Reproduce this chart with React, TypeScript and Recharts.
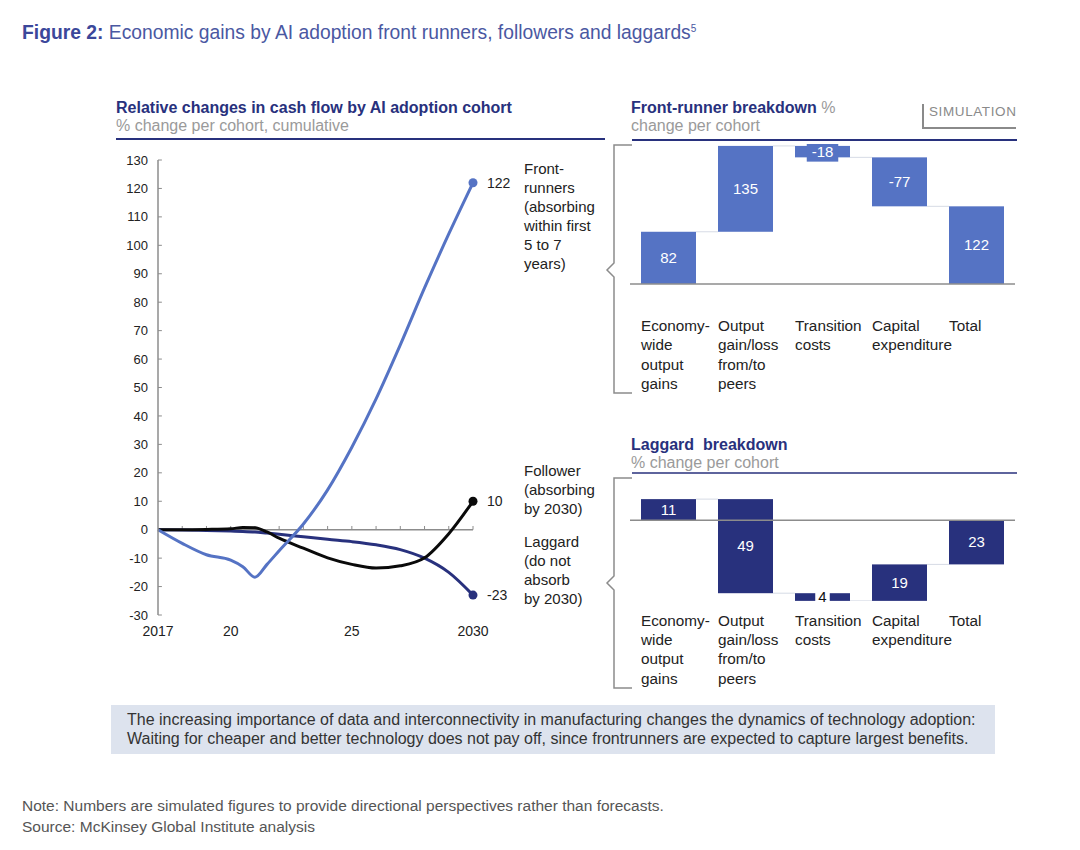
import React from 'react';
import { LineChart, Line, XAxis, YAxis, ReferenceLine, BarChart, Bar, LabelList } from 'recharts';

const FONT = '"Liberation Sans", Arial, Helvetica, sans-serif';
const NAVY = '#28317d';
const LIGHT = '#5573c4';
const INK = '#222';
const GREY = '#9a9a9a';

// cumulative cash-flow change per cohort
const years = [2017, 2018, 2019, 2020, 2020.5, 2021, 2021.5, 2022, 2023, 2024, 2025, 2026, 2027, 2028, 2029, 2030];
const frontRunners = [0, -4.8, -8.8, -10.7, -13, -16.7, -12.2, -7.4, 2, 14, 29, 46, 65, 85, 104, 122];
const followers = [0, 0, 0.1, 0.3, 0.8, 0.7, -0.8, -3, -6.5, -9.9, -12.2, -13.5, -12.7, -9.9, -1.4, 10];
const laggards = [0, -0.1, -0.3, -0.5, -0.6, -0.8, -1.2, -1.6, -2.5, -3.4, -4.2, -5.3, -7, -10, -15, -23];

const yTicks = [-30, -20, -10, 0, 10, 20, 30, 40, 50, 60, 70, 80, 90, 100, 110, 120, 130];
const xTicks = [2017, 2020, 2025, 2030];
const xTickNames = ['2017', '20', '25', '2030'];
const minorYears = years.filter((y) => Number.isInteger(y) && y > 2017);

// waterfall steps (total is the running sum)
const steps = ['Economy-\nwide\noutput\ngains', 'Output\ngain/loss\nfrom/to\npeers', 'Transition\ncosts', 'Capital\nexpenditure', 'Total'];
const frontSteps = [82, 135, -18, -77];
const laggardSteps = [11, -49, -4, 19];

const lineRows = years.map((year, i) => ({
  year,
  front: frontRunners[i],
  follower: followers[i],
  laggard: laggards[i],
}));

function waterfall(values: number[]) {
  let run = 0;
  const rows: any[] = values.map((v, i) => {
    const row = { name: steps[i], range: [Math.min(run, run + v), Math.max(run, run + v)], delta: v, total: false };
    run += v;
    return row;
  });
  rows.push({ name: steps[4], range: [Math.min(0, run), Math.max(0, run)], delta: run, total: true });
  return rows;
}

const StepShape = (props: any) => {
  const { x, y, width, height, payload, fill } = props;
  const top = Math.min(y, y + height);
  const h = Math.abs(height);
  const level = payload.delta >= 0 ? top : top + h;
  return (
    <g>
      {!payload.total && (
        <line x1={x + width} x2={x + width + 22} y1={level} y2={level} stroke="#d6dbe5" strokeWidth={1} />
      )}
      <rect x={x} y={top} width={width} height={h} fill={fill} />
    </g>
  );
};

const CategoryTick = ({ x, y, payload, offset }: any) => {
  const lines = String(payload.value).split('\n');
  return (
    <text x={x - 27.5} y={y + offset} fill={INK} fontSize={15.3} fontFamily={FONT}>
      {lines.map((l, i) => (
        <tspan key={i} x={x - 27.5} dy={i === 0 ? 0 : 19.3}>{l}</tspan>
      ))}
    </text>
  );
};

function Waterfall({ values, color, top, height, domain, pxPerUnit, tickOffset, absLabels, smallBg, smallInk }: any) {
  const rows = waterfall(values);
  const label = (p: any) => {
    const vb = p.viewBox || p;
    const { x, y, width, height: h } = vb;
    const cy = Math.min(y, y + h) + Math.abs(h) / 2;
    const v = absLabels ? Math.abs(p.value) : p.value;
    const small = Math.abs(h) < 14;
    const bw = small ? String(v).length * 8.5 + 6 : 0;
    return (
      <g>
        {small && <rect x={x + width / 2 - bw / 2} y={cy - 10} width={bw} height={20} fill={smallBg} />}
        <text x={x + width / 2} y={cy + 5} textAnchor="middle" fontSize={15} fontFamily={FONT} fill={small ? smallInk : '#fff'}>
          {v}
        </text>
      </g>
    );
  };
  return (
    <div style={{ position: 'absolute', left: 630, top }}>
      <BarChart width={385} height={height} data={rows} margin={{ top: 0, right: 0, bottom: 0, left: 0 }} barSize={55}>
        <XAxis
          dataKey="name"
          axisLine={false}
          tickLine={false}
          tickSize={0}
          tickMargin={0}
          interval={0}
          height={height - (domain[1] - domain[0]) * pxPerUnit}
          tick={<CategoryTick offset={tickOffset} />}
        />
        <YAxis hide domain={domain} allowDataOverflow />
        <ReferenceLine y={0} stroke="#8c8c8c" strokeWidth={1.5} />
        <Bar dataKey="range" fill={color} shape={<StepShape />} isAnimationActive={false}>
          <LabelList dataKey="delta" content={label} />
        </Bar>
      </BarChart>
    </div>
  );
}

const endLabel = (p: any) => {
  if (p.index !== years.length - 1) return null;
  return (
    <text x={p.x + 14} y={p.y + 5} fontSize={14} fontFamily={FONT} fill={INK}>
      {p.value}
    </text>
  );
};

const endDot = (color: string) => (p: any) =>
  p.index === years.length - 1 ? (
    <circle key={`d${p.index}`} cx={p.cx} cy={p.cy} r={4.5} fill={color} />
  ) : (
    <g key={`d${p.index}`} />
  );

const txt = (left: number, top: number, extra: any = {}) => ({
  position: 'absolute' as const,
  left,
  top,
  fontFamily: FONT,
  ...extra,
});

export default function App() {
  return (
    <div style={{ position: 'absolute', left: 0, top: 0, width: 1080, height: 850, background: '#fff', overflow: 'hidden', fontFamily: FONT }}>
      <div style={txt(22, 17, { fontSize: 19.3, lineHeight: '24px', color: '#4a58a2', whiteSpace: 'nowrap' })}>
        <span style={{ fontWeight: 'bold', color: '#3b479a' }}>Figure 2:</span> Economic gains by AI adoption front runners, followers and laggards
        <sup style={{ fontSize: 10 }}>5</sup>
      </div>

      {/* panel headers */}
      <div style={txt(116, 99, { fontSize: 16, lineHeight: '18px', whiteSpace: 'nowrap' })}>
        <div style={{ fontWeight: 'bold', color: NAVY }}>Relative changes in cash flow by AI adoption cohort</div>
        <div style={{ color: GREY }}>% change per cohort, cumulative</div>
      </div>
      <div style={txt(631, 99, { fontSize: 16, lineHeight: '18px', whiteSpace: 'nowrap' })}>
        <div>
          <span style={{ fontWeight: 'bold', color: NAVY }}>Front-runner breakdown</span>
          <span style={{ color: GREY }}> %</span>
        </div>
        <div style={{ color: GREY }}>change per cohort</div>
      </div>
      <div style={txt(631, 436, { fontSize: 16, lineHeight: '18px', whiteSpace: 'pre' })}>
        <div style={{ fontWeight: 'bold', color: NAVY }}>Laggard  breakdown</div>
        <div style={{ color: GREY }}>% change per cohort</div>
      </div>
      <div style={txt(929, 104, { fontSize: 13.5, color: '#8a8a8a', letterSpacing: 0.6 })}>SIMULATION</div>

      {/* cohort curves */}
      <div style={{ position: 'absolute', left: 100, top: 150 }}>
        <LineChart width={420} height={495} data={lineRows} margin={{ top: 10, right: 47, bottom: 0, left: 0 }}>
          <XAxis
            type="number"
            dataKey="year"
            domain={[2017, 2030]}
            ticks={xTicks}
            tickFormatter={(v) => xTickNames[xTicks.indexOf(v)]}
            axisLine={false}
            tickLine={false}
            tickMargin={5}
            height={30}
            tick={{ fill: INK, fontSize: 14, fontFamily: FONT }}
          />
          <YAxis
            domain={[-30, 130]}
            ticks={yTicks}
            interval={0}
            width={58}
            tickLine={false}
            tickMargin={4}
            axisLine={{ stroke: '#8c8c8c', strokeWidth: 1.5 }}
            tick={{ fill: INK, fontSize: 13, fontFamily: FONT }}
          />
          <ReferenceLine y={0} stroke="#8c8c8c" strokeWidth={1.5} />
          {yTicks.map((t) => (
            <ReferenceLine key={`y${t}`} segment={[{ x: 2017, y: t }, { x: 2017.16, y: t }]} stroke="#8c8c8c" strokeWidth={1} />
          ))}
          {minorYears.map((yr) => (
            <ReferenceLine key={`x${yr}`} segment={[{ x: yr, y: 0 }, { x: yr, y: 1.3 }]} stroke="#8c8c8c" strokeWidth={1} />
          ))}
          <Line type="monotone" dataKey="laggard" stroke={NAVY} strokeWidth={3} dot={endDot(NAVY)} isAnimationActive={false}>
            <LabelList dataKey="laggard" content={endLabel} />
          </Line>
          <Line type="monotone" dataKey="follower" stroke="#0a0a0a" strokeWidth={3} dot={endDot('#0a0a0a')} isAnimationActive={false}>
            <LabelList dataKey="follower" content={endLabel} />
          </Line>
          <Line type="monotone" dataKey="front" stroke={LIGHT} strokeWidth={3} dot={endDot(LIGHT)} isAnimationActive={false}>
            <LabelList dataKey="front" content={endLabel} />
          </Line>
        </LineChart>
      </div>

      <div style={txt(524, 158.5, { fontSize: 15, lineHeight: '19px', color: INK })}>
        Front-<br />runners<br />(absorbing<br />within first<br />5 to 7<br />years)
      </div>
      <div style={txt(524, 460.5, { fontSize: 15, lineHeight: '19px', color: INK })}>
        Follower<br />(absorbing<br />by 2030)
      </div>
      <div style={txt(524, 531.5, { fontSize: 15, lineHeight: '19px', color: INK })}>
        Laggard<br />(do not<br />absorb<br />by 2030)
      </div>

      {/* breakdowns */}
      <Waterfall values={frontSteps} color={LIGHT} top={144} height={250} domain={[0, 220]} pxPerUnit={0.636} tickOffset={47} absLabels={false} smallBg={LIGHT} smallInk="#fff" />
      <Waterfall values={laggardSteps} color={NAVY} top={478} height={213} domain={[-42, 22]} pxPerUnit={1.92} tickOffset={25} absLabels smallBg="#fff" smallInk="#111" />

      {/* rules and brackets */}
      <svg width={1080} height={850} style={{ position: 'absolute', left: 0, top: 0, pointerEvents: 'none' }}>
        <line x1={116} x2={605} y1={139} y2={139} stroke={NAVY} strokeWidth={2} />
        <line x1={632} x2={1017} y1={140} y2={140} stroke={NAVY} strokeWidth={2} />
        <line x1={632} x2={1017} y1={473} y2={473} stroke={NAVY} strokeWidth={1.5} />
        <path d="M923 104 V128 H1016" fill="none" stroke="#8a8a8a" strokeWidth={2} />
        <path d="M632 145 H614 V263 L607 270 L614 277 V393 H632" fill="none" stroke="#8c8c8c" strokeWidth={1.5} />
        <path d="M632 478 H614 V576 L607 583 L614 590 V688 H632" fill="none" stroke="#8c8c8c" strokeWidth={1.5} />
      </svg>

      <div style={txt(111, 705, { width: 884, height: 49, background: '#dde3ee', boxSizing: 'border-box', padding: '5px 0 0 16px', fontSize: 16, lineHeight: '19px', color: '#333', whiteSpace: 'nowrap' })}>
        The increasing importance of data and interconnectivity in manufacturing changes the dynamics of technology adoption:
        <br />
        Waiting for cheaper and better technology does not pay off, since frontrunners are expected to capture largest benefits.
      </div>

      <div style={txt(22, 795, { fontSize: 15.5, lineHeight: '21px', color: '#555' })}>
        Note: Numbers are simulated figures to provide directional perspectives rather than forecasts.
        <br />
        Source: McKinsey Global Institute analysis
      </div>
    </div>
  );
}
